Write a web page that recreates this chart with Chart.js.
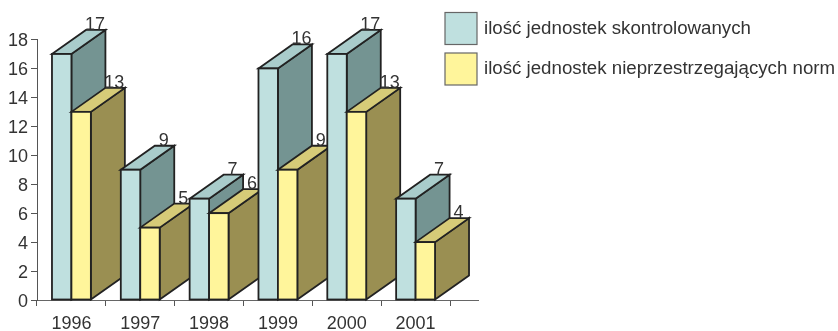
<!DOCTYPE html>
<html>
<head>
<meta charset="utf-8">
<title>Jednostki skontrolowane</title>
<script src="https://cdn.jsdelivr.net/npm/chart.js@4/dist/chart.umd.min.js"></script>
<style>
    html, body { margin: 0; padding: 0; background: #fff; }
    canvas { display: block; }
</style>
</head>
<body>
<canvas id="myChart" width="838" height="331"></canvas>
<script>
const years = ['1996', '1997', '1998', '1999', '2000', '2001'];
const controlled = [17, 9, 7, 16, 17, 7];
const violating = [13, 5, 6, 9, 13, 4];
const seriesNames = ['ilość jednostek skontrolowanych', 'ilość jednostek nieprzestrzegających norm'];

const FONT = '"Liberation Sans", Arial, sans-serif';
const TEXT = '#333333';
const EDGE = '#222222';
const DEPTH_X = 34;
const DEPTH_Y = 24;

// front, top and side colours for each series
const faces = [
    { front: '#bfe0df', top: '#a9cccb', side: '#749492' },
    { front: '#fff59b', top: '#d6cb78', side: '#9a8f52' }
];

function polygon(ctx, points, fill) {
    ctx.beginPath();
    points.forEach((p, i) => i ? ctx.lineTo(p[0], p[1]) : ctx.moveTo(p[0], p[1]));
    ctx.closePath();
    ctx.fillStyle = fill;
    ctx.fill();
    ctx.stroke();
}

// Bars overlap from left to right, so every year is painted in turn
// instead of one dataset after another.
const boxes3d = {
    id: 'boxes3d',
    beforeDatasetsDraw(chart) {
        const ctx = chart.ctx;
        ctx.save();
        ctx.lineWidth = 1.8;
        ctx.strokeStyle = EDGE;
        years.forEach((year, i) => {
            chart.data.datasets.forEach((dataset, d) => {
                const bar = chart.getDatasetMeta(d).data[i];
                const left = bar.x - bar.width / 2;
                const right = bar.x + bar.width / 2;
                polygon(ctx, [[right, bar.y], [right + DEPTH_X, bar.y - DEPTH_Y],
                    [right + DEPTH_X, bar.base - DEPTH_Y], [right, bar.base]], faces[d].side);
                polygon(ctx, [[left, bar.y], [left + DEPTH_X, bar.y - DEPTH_Y],
                    [right + DEPTH_X, bar.y - DEPTH_Y], [right, bar.y]], faces[d].top);
                bar.draw(ctx);
                ctx.strokeRect(left, bar.y, bar.width, bar.base - bar.y);
            });
        });
        // value labels go on last so no neighbouring box hides them
        ctx.fillStyle = TEXT;
        ctx.font = '18px ' + FONT;
        ctx.textAlign = 'center';
        ctx.textBaseline = 'alphabetic';
        years.forEach((year, i) => {
            chart.data.datasets.forEach((dataset, d) => {
                const bar = chart.getDatasetMeta(d).data[i];
                ctx.fillText(String(dataset.data[i]), bar.x + bar.width / 2 + DEPTH_X - 10.5, bar.y - DEPTH_Y);
            });
        });
        ctx.restore();
        return false;
    },
    afterDraw(chart) {
        const ctx = chart.ctx;
        const area = chart.chartArea;
        ctx.save();
        // baseline runs on past the last year
        ctx.strokeStyle = '#666666';
        ctx.lineWidth = 1;
        ctx.beginPath();
        ctx.moveTo(area.right, area.bottom + 0.5);
        ctx.lineTo(area.right + 29, area.bottom + 0.5);
        ctx.stroke();
        // legend
        ctx.font = '18.7px ' + FONT;
        ctx.textBaseline = 'middle';
        ctx.textAlign = 'left';
        seriesNames.forEach((name, i) => {
            const y = 12.5 + i * 40.5;
            ctx.fillStyle = faces[i].front;
            ctx.strokeStyle = '#666666';
            ctx.lineWidth = 1.2;
            ctx.fillRect(445, y, 32, 32);
            ctx.strokeRect(445, y, 32, 32);
            ctx.fillStyle = TEXT;
            ctx.fillText(name, 484, y + 16);
        });
        ctx.restore();
    }
};

new Chart(document.getElementById('myChart').getContext('2d'), {
    type: 'bar',
    data: {
        labels: years,
        datasets: [
            { label: seriesNames[0], data: controlled, backgroundColor: faces[0].front, borderWidth: 0, categoryPercentage: 0.565, barPercentage: 1 },
            { label: seriesNames[1], data: violating, backgroundColor: faces[1].front, borderWidth: 0, categoryPercentage: 0.565, barPercentage: 1 }
        ]
    },
    options: {
        responsive: false,
        animation: false,
        devicePixelRatio: 1,
        layout: { padding: { top: 39.5, right: 388, left: 0, bottom: 0 } },
        plugins: { legend: { display: false }, tooltip: { enabled: false } },
        scales: {
            x: {
                offset: true,
                afterFit(scale) { scale.height = 31; },
                grid: { offset: true, drawOnChartArea: false, drawTicks: true, tickLength: 6, color: '#555555' },
                border: { color: '#666666', width: 1 },
                ticks: { color: TEXT, font: { family: FONT, size: 18 }, padding: 7, maxRotation: 0 }
            },
            y: {
                min: 0,
                max: 18,
                afterFit(scale) { scale.width = 37; },
                grid: { drawOnChartArea: false, drawTicks: true, tickLength: 6, color: '#555555' },
                border: { color: '#555555', width: 1 },
                ticks: { stepSize: 2, color: TEXT, font: { family: FONT, size: 18 }, padding: 3, labelOffset: 2 }
            }
        }
    },
    plugins: [boxes3d]
});
</script>
</body>
</html>
